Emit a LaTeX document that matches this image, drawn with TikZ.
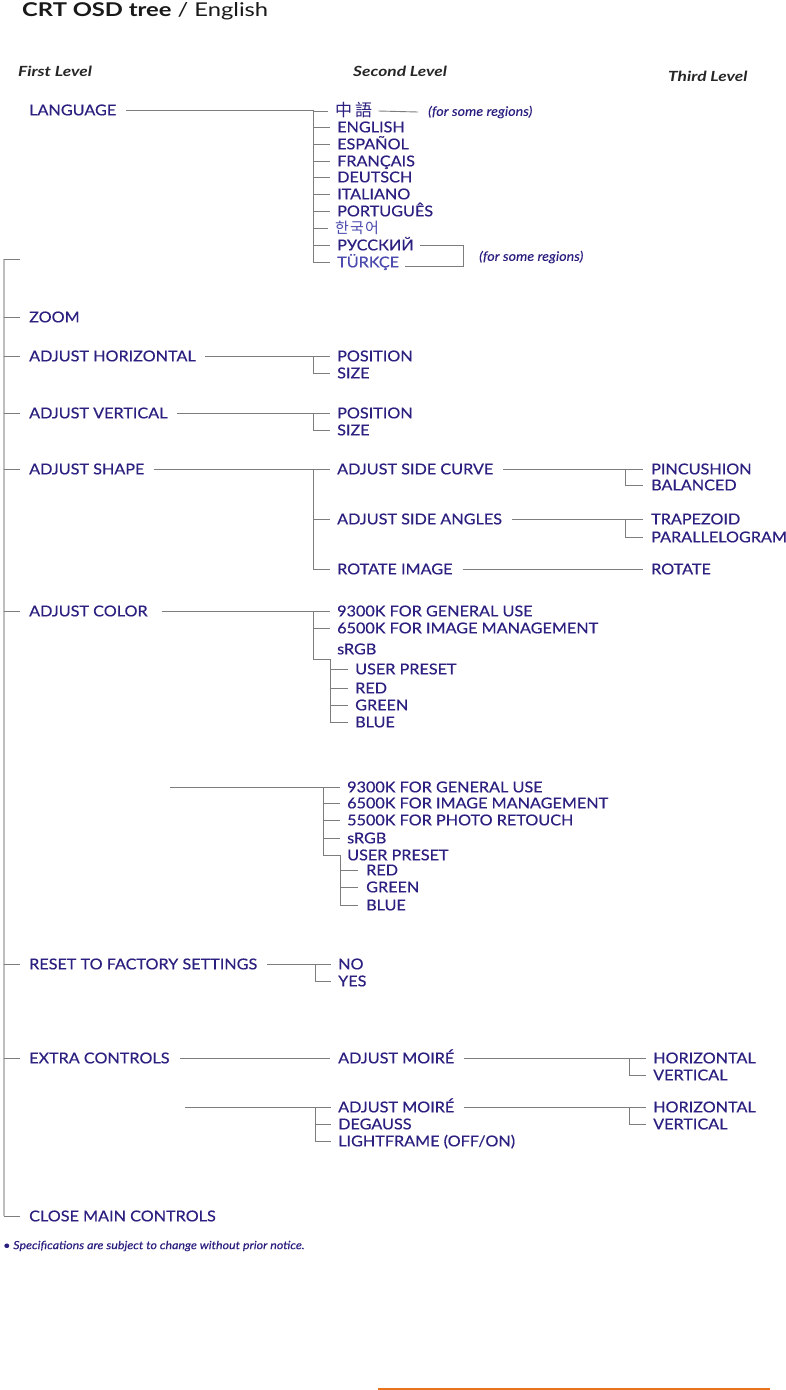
\documentclass[tikz,border=0pt]{standalone}
\usepackage{fontspec}
\setmainfont{Lato}
\newfontfamily\itf[FakeStretch=1.08,FakeBold=0.35]{Lato}
\newfontfamily\notef[FakeStretch=1.1,FakeBold=0.2]{Lato}
\newfontfamily\hdrf[FakeStretch=1.24]{Lato}
\newfontfamily\titf[FakeStretch=1.25]{Lato}
\newfontfamily\cjkf{Noto Sans CJK TC}
\definecolor{txt}{RGB}{43,32,128}
\definecolor{txtl}{RGB}{75,75,175}
\definecolor{lgray}{RGB}{125,125,125}
\definecolor{tgray}{RGB}{190,190,190}
\definecolor{orangeln}{RGB}{232,115,30}
\newcommand{\tk}[2]{\draw[ln] (#1 |- #2.west) -- ([xshift=-7pt]#2.west);}
\begin{document}
\begin{tikzpicture}[x=1pt,y=-1pt,
 it/.style={anchor=west, inner sep=0pt, text height=10.7pt, text depth=0pt, text=txt, font=\fontsize{15}{17}\selectfont\itf},
 itl/.style={it, text=txtl},
 cjk/.style={it, font=\fontsize{17}{19}\selectfont\cjkf},
 note/.style={anchor=west, inner sep=0pt, text=txt, font=\fontsize{13}{15}\selectfont\notef\itshape},
 hdr/.style={anchor=west, inner sep=0pt, font=\fontsize{14}{16}\selectfont\hdrf\bfseries\itshape, text=black!85},
 ln/.style={draw=lgray, line width=0.9pt},
 trunkline/.style={draw=tgray, line width=2.6pt},
]
\fill[white] (0,0) rectangle (785,1390);
\useasboundingbox (0,0) rectangle (785,1390);

% title and headers
\node[anchor=west, inner sep=0pt, font=\fontsize{19}{22}\selectfont\titf, text=black!90] (title) at (22,11) {\textbf{CRT OSD tree} / English};
\node[hdr] (h1) at (18,71) {First Level};
\node[hdr] (h2) at (353,71) {Second Level};
\node[hdr] (h3) at (668,76) {Third Level};

% first level
\node[it] (lang) at (29,110) {LANGUAGE};
\node[it] (zoom) at (29,317) {ZOOM};
\node[it] (ah) at (29,356) {ADJUST HORIZONTAL};
\node[it] (av) at (29,413) {ADJUST VERTICAL};
\node[it] (as) at (29,469) {ADJUST SHAPE};
\node[it] (ac) at (29,611) {ADJUST COLOR};
\node[it] (rf) at (29,964) {RESET TO FACTORY SETTINGS};
\node[it] (ec) at (29,1058) {EXTRA CONTROLS};
\node[it] (cm) at (29,1216) {CLOSE MAIN CONTROLS};

% trunk
\coordinate (ttop) at (4,259);
\coordinate (ttopr) at (20,259);
\coordinate (tbot) at (4,1216);
\draw[trunkline] (ttop) -- (tbot);
\draw[ln] (ttop) -- (ttopr);
\foreach \n in {zoom,ah,av,as,ac,rf,ec}{
  \draw[ln] (ttop |- \n.west) -- ([xshift=-9pt]\n.west);
}
\draw[ln] (tbot) -- ([xshift=-9pt]cm.west);

% language
\node[cjk] (zh) at (335,111) {中\hspace{3pt}語};
\node[it] (en) at (337,127) {ENGLISH};
\node[it] (es) at (337,144) {ESPAÑOL};
\node[it] (fr) at (337,161) {FRANÇAIS};
\node[it] (de) at (337,177) {DEUTSCH};
\node[it] (itn) at (337,194) {ITALIANO};
\node[it] (pt) at (337,211) {PORTUGUÊS};
\node[cjk, text=txtl, font=\fontsize{15}{17}\selectfont\cjkf] (ko) at (335,228) {한\hspace{1.2pt}국\hspace{1.2pt}어};
\node[it] (ru) at (337,245) {РУССКИЙ};
\node[itl] (tr) at (337,262) {TÜRKÇE};
\node[note] (fsr1) at (428,112) {(for some regions)};
\node[note] (fsr2) at (479,257) {(for some regions)};
\coordinate (lb) at (313,110);
\draw[ln] ([xshift=10pt]lang.east) -- (lb) -- (lb |- tr.west) -- ([xshift=-7pt]tr.west);
\foreach \n in {zh,en,es,fr,de,itn,pt,ko,ru}{ \tk{lb}{\n} }
\draw[ln] ([xshift=6pt]zh.east) -- ([xshift=-10pt]fsr1.west);
\coordinate (rb1) at (463,245);
\coordinate (rb2) at (463,266);
\draw[ln] ([xshift=6pt]ru.east) -- (rb1) -- (rb2) -- ([xshift=6pt]tr.east |- rb2);

% adjust horizontal
\node[it] (ahp) at (337,356) {POSITION};
\node[it] (ahs) at (337,373) {SIZE};
\coordinate (hb) at (313,356);
\draw[ln] ([xshift=9pt]ah.east) -- (hb) -- (hb |- ahs.west) -- ([xshift=-7pt]ahs.west);
\tk{hb}{ahp}

% adjust vertical
\node[it] (avp) at (337,413) {POSITION};
\node[it] (avs) at (337,430) {SIZE};
\coordinate (vb) at (313,413);
\draw[ln] ([xshift=9pt]av.east) -- (vb) -- (vb |- avs.west) -- ([xshift=-7pt]avs.west);
\tk{vb}{avp}

% adjust shape
\node[it] (sc) at (337,469) {ADJUST SIDE CURVE};
\node[it] (sa) at (337,519) {ADJUST SIDE ANGLES};
\node[it] (ri) at (337,569) {ROTATE IMAGE};
\coordinate (sb) at (313,469);
\draw[ln] ([xshift=9pt]as.east) -- (sb) -- (sb |- ri.west) -- ([xshift=-7pt]ri.west);
\tk{sb}{sc}
\tk{sb}{sa}
\node[it] (pin) at (651,469) {PINCUSHION};
\node[it] (bal) at (651,485) {BALANCED};
\coordinate (scb) at (625,469);
\draw[ln] ([xshift=10pt]sc.east) -- (scb) -- (scb |- bal.west) -- ([xshift=-8pt]bal.west);
\draw[ln] (scb) -- ([xshift=-8pt]pin.west);
\node[it] (tra) at (651,519) {TRAPEZOID};
\node[it] (par) at (651,537) {PARALLELOGRAM};
\coordinate (sab) at (625,519);
\draw[ln] ([xshift=10pt]sa.east) -- (sab) -- (sab |- par.west) -- ([xshift=-8pt]par.west);
\draw[ln] (sab) -- ([xshift=-8pt]tra.west);
\node[it] (rot) at (651,569) {ROTATE};
\draw[ln] ([xshift=10pt]ri.east) -- ([xshift=-8pt]rot.west);

% adjust color (block 1)
\node[it] (c1) at (337,611) {9300K FOR GENERAL USE};
\node[it] (c2) at (337,628) {6500K FOR IMAGE MANAGEMENT};
\node[it] (c3) at (337,649) {sRGB};
\node[it] (up1) at (355,669) {USER PRESET};
\node[it] (r1) at (355,688) {RED};
\node[it] (g1) at (355,705) {GREEN};
\node[it] (b1) at (355,722) {BLUE};
\coordinate (cb) at (313,611);
\coordinate (cc) at (313,659);
\coordinate (cc2) at (330,659);
\draw[ln] ([xshift=14pt]ac.east) -- (cb) -- (cc) -- (cc2) -- (cc2 |- b1.west) -- ([xshift=-7pt]b1.west);
\tk{cb}{c1}
\tk{cb}{c2}
\tk{cc2}{up1}
\tk{cc2}{r1}
\tk{cc2}{g1}

% adjust color (block 2)
\coordinate (c2s) at (170,787);
\node[it] (d1) at (347,787) {9300K FOR GENERAL USE};
\node[it] (d2) at (347,803) {6500K FOR IMAGE MANAGEMENT};
\node[it] (d3) at (347,820) {5500K FOR PHOTO RETOUCH};
\node[it] (d4) at (347,838) {sRGB};
\node[it] (d5) at (347,855) {USER PRESET};
\node[it] (r2) at (366,870) {RED};
\node[it] (g2) at (366,887) {GREEN};
\node[it] (b2) at (366,905) {BLUE};
\coordinate (db) at (323,787);
\coordinate (dc) at (340,855);
\draw[ln] (c2s) -- (db) -- (db |- d5.west) -- (dc) -- (dc |- b2.west) -- ([xshift=-8pt]b2.west);
\tk{db}{d1}
\tk{db}{d2}
\tk{db}{d3}
\tk{db}{d4}
\draw[ln] (dc |- r2.west) -- ([xshift=-8pt]r2.west);
\draw[ln] (dc |- g2.west) -- ([xshift=-8pt]g2.west);

% reset
\node[it] (no) at (338,964) {NO};
\node[it] (yes) at (338,981) {YES};
\coordinate (fb) at (315,964);
\draw[ln] ([xshift=10pt]rf.east) -- (fb) -- (fb |- yes.west) -- ([xshift=-7pt]yes.west);
\tk{fb}{no}

% extra controls (block 1)
\node[it] (am1) at (338,1058) {ADJUST MOIRÉ};
\draw[ln] ([xshift=10pt]ec.east) -- ([xshift=-8pt]am1.west);
\node[it] (ho1) at (653,1058) {HORIZONTAL};
\node[it] (ve1) at (653,1075) {VERTICAL};
\coordinate (mb1) at (629,1058);
\draw[ln] ([xshift=10pt]am1.east) -- (mb1) -- (mb1 |- ve1.west) -- ([xshift=-7pt]ve1.west);
\tk{mb1}{ho1}

% extra controls (block 2)
\coordinate (e2s) at (185,1107);
\node[it] (am2) at (338,1107) {ADJUST MOIRÉ};
\node[it] (dg) at (338,1124) {DEGAUSS};
\node[it] (lf) at (338,1141) {LIGHTFRAME (OFF/ON)};
\coordinate (eb) at (315,1107);
\draw[ln] (e2s) -- (eb) -- (eb |- lf.west) -- ([xshift=-7pt]lf.west);
\tk{eb}{am2}
\tk{eb}{dg}
\node[it] (ho2) at (653,1107) {HORIZONTAL};
\node[it] (ve2) at (653,1124) {VERTICAL};
\coordinate (mb2) at (629,1107);
\draw[ln] ([xshift=10pt]am2.east) -- (mb2) -- (mb2 |- ve2.west) -- ([xshift=-7pt]ve2.west);
\tk{mb2}{ho2}

% footnote
\node[anchor=west, inner sep=0pt, text=txt, font=\fontsize{11.3}{13}\selectfont\notef\itshape] (foot) at (3,1246) {• Specifications are subject to change without prior notice.};

% orange rule
\coordinate (ol) at (378,1389);
\coordinate (or) at (770,1389);
\draw[draw=orangeln, line width=1.4pt] (ol) -- (or);
\end{tikzpicture}
\end{document}
